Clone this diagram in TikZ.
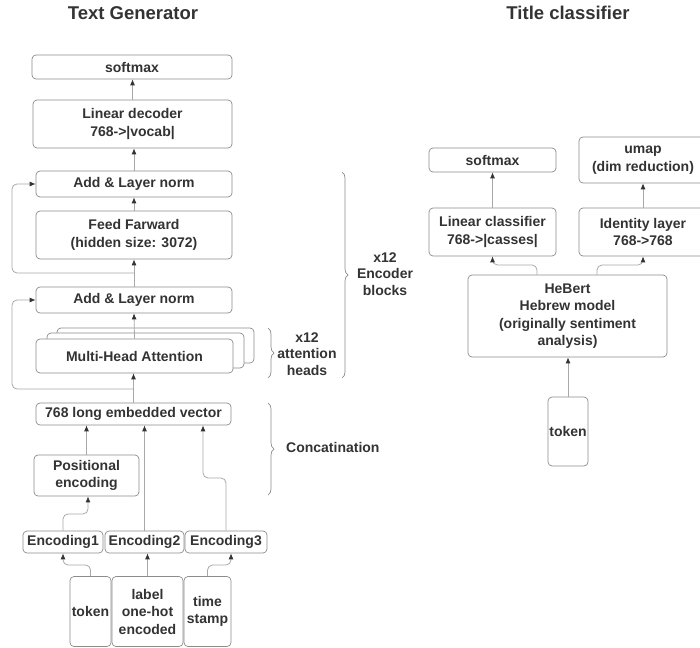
\documentclass[tikz,border=0pt]{standalone}
\usepackage{fontspec}
\setmainfont{Liberation Sans}
\usetikzlibrary{arrows.meta,decorations.pathreplacing}
\definecolor{txt}{HTML}{333333}
\definecolor{bord}{HTML}{8C8C8C}
\definecolor{lin}{HTML}{A8A8A8}
\begin{document}
\begin{tikzpicture}[x=1pt,y=-1pt,
  box/.style={draw=bord, line width=0.7pt, rounded corners=4pt, fill=white, text=txt,
    font=\fontsize{14}{17.5}\selectfont\bfseries, align=center, inner sep=0pt},
  conn/.style={draw=lin, line width=0.8pt, rounded corners=5pt,
    -{Latex[length=6pt,width=5pt,color=txt]}},
  brc/.style={draw=bord, line width=0.7pt, decorate, decoration={brace, amplitude=6pt}},
  lbl/.style={text=txt, font=\fontsize{14}{16.5}\selectfont\bfseries, align=center, inner sep=0pt},
  ttl/.style={text=txt, font=\fontsize{18.5}{22}\selectfont\bfseries, inner sep=0pt}]
\useasboundingbox (0,0) rectangle (700,647);

% titles
\node[ttl] (t1) at (133,13) {Text Generator};
\node[ttl] (t2) at (568,13) {Title classifier};

% left column
\node[box, minimum width=200pt, minimum height=24pt] (sm1) at (132,67) {softmax};
\node[box, minimum width=199pt, minimum height=48pt] (lindec) at (132.5,124) {Linear decoder\\768->|vocab|};
\node[box, minimum width=196pt, minimum height=26pt] (add2) at (134,184) {Add \& Layer norm};
\node[box, minimum width=196pt, minimum height=48pt] (ff) at (134,235) {Feed Farward\\(hidden size: 3072)};
\node[box, minimum width=196pt, minimum height=26pt] (add1) at (134,300) {Add \& Layer norm};
\node[box, minimum width=197pt, minimum height=35pt] (mhb3) at (155.5,345.5) {};
\node[box, minimum width=197pt, minimum height=35pt] (mhb2) at (145.5,350.5) {};
\node[box, minimum width=197pt, minimum height=34pt] (mha) at (134.5,356) {Multi-Head Attention};
\node[box, minimum width=195pt, minimum height=22pt] (vec) at (133.5,414) {768 long embedded vector};
\node[box, minimum width=105pt, minimum height=41pt] (pos) at (86.5,475.5) {Positional\\encoding};
\node[box, minimum width=80pt, minimum height=22pt] (enc1) at (63,542) {Encoding1};
\node[box, minimum width=79pt, minimum height=22pt] (enc2) at (144.5,542) {Encoding2};
\node[box, minimum width=82pt, minimum height=22pt] (enc3) at (226,542) {Encoding3};
\node[box, minimum width=41pt, minimum height=70pt] (tok) at (90.5,611.5) {token};
\node[box, minimum width=71pt, minimum height=70pt] (lab) at (147.5,611.5) {label\\one-hot\\encoded};
\node[box, minimum width=47pt, minimum height=70pt] (ts) at (207.5,611.5) {time\\stamp};

% right column
\node[box, minimum width=127pt, minimum height=24pt] (sm2) at (492.5,160) {softmax};
\node[box, minimum width=128pt, minimum height=46pt] (umap) at (643,160) {umap\\(dim reduction)};
\node[box, minimum width=127pt, minimum height=48pt] (lincls) at (492.5,232) {Linear classifier\\768->|casses|};
\node[box, minimum width=128pt, minimum height=48pt] (ident) at (643,232) {Identity layer\\768->768};
\node[box, minimum width=199pt, minimum height=82pt] (hebert) at (567.5,316) {HeBert\\Hebrew model\\(originally sentiment\\analysis)};
\node[box, minimum width=40pt, minimum height=69pt] (tok2) at (568,431.5) {token};

% helper coordinates
\coordinate (k1) at (12,0);
\coordinate (s1) at (134,273);
\coordinate (s2) at (134,389);
\coordinate (j1) at (88,514);
\coordinate (j3) at (203,478);
\coordinate (j4) at (63,565);
\coordinate (j5) at (231,565);
\coordinate (h1) at (537,0);
\coordinate (h2) at (597,0);
\coordinate (j6) at (492.5,265);
\coordinate (j7) at (643,265);

% left connectors
\draw[conn] (lindec.north) -- (lindec.north |- sm1.south);
\draw[conn] (add2.north) -- (add2.north |- lindec.south);
\draw[conn] (ff.north) -- (add2.south);
\draw[conn] (add1.north) -- (ff.south);
\draw[conn] (s1) -- (s1 -| k1) |- (add2.west);
\draw[conn] (mha.north) -- (add1.south);
\draw[conn] (vec.north) -- (vec.north |- mha.south);
\draw[conn] (s2) -- (s2 -| k1) |- (add1.west);
\draw[conn] (pos.north) -- (pos.north |- vec.south);
\draw[conn] (enc1.north) |- (j1) -- (j1 |- pos.south);
\draw[conn] (enc2.north) -- (enc2.north |- vec.south);
\draw[conn] (enc3.north) |- (j3) -- (j3 |- vec.south);
\draw[conn] (tok.north) |- (j4) -- (j4 |- enc1.south);
\draw[conn] (lab.north) -- (lab.north |- enc2.south);
\draw[conn] (ts.north) |- (j5) -- (j5 |- enc3.south);

% right connectors
\draw[conn] (lincls.north) -- (sm2.south);
\draw[conn] (ident.north) -- (umap.south);
\draw[conn] (hebert.north -| h1) |- (j6) -- (lincls.south);
\draw[conn] (hebert.north -| h2) |- (j7) -- (ident.south);
\draw[conn] (tok2.north) -- (tok2.north |- hebert.south);

% braces
\coordinate (b1a) at (342,172);
\coordinate (b1b) at (342,378);
\coordinate (b2a) at (268,328);
\coordinate (b2b) at (268,378);
\coordinate (b3a) at (268,403);
\coordinate (b3b) at (268,495);
\draw[brc] (b1a) -- (b1b);
\draw[brc] (b2a) -- (b2b);
\draw[brc] (b3a) -- (b3b);
\node[lbl] (l1) at (385,274) {x12\\Encoder\\blocks};
\node[lbl] (l2) at (307,354) {x12\\attention\\heads};
\node[lbl, anchor=west] (l3) at (286,447) {Concatination};
\end{tikzpicture}
\end{document}
